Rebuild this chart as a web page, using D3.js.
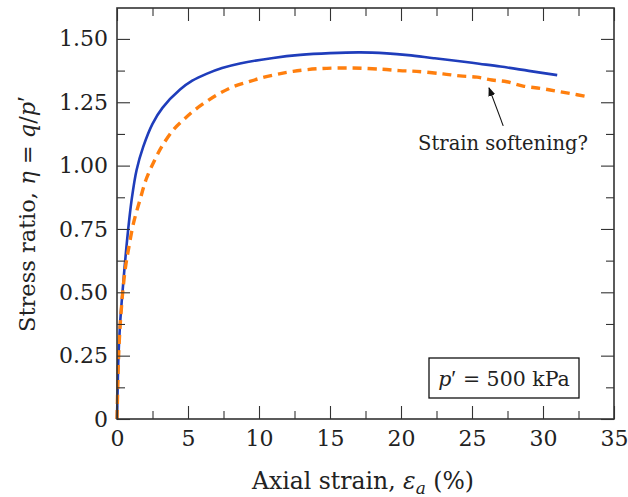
<!DOCTYPE html>
<html><head><meta charset="utf-8">
<script src="https://cdn.jsdelivr.net/npm/d3@7"></script>
<style>html,body{margin:0;padding:0;background:#fff;}svg{display:block;}</style>
</head><body>
<svg id="chart" width="628" height="497"></svg>
<script>
// ---- data ----
const blueStrain = [0,0.05,0.1,0.2,0.3,0.4,0.6,0.8,1.03,1.38,1.85,2.5,3.2,4.44,5.3,6.3,7.4,8.66,11,12.9,15,17.1,19,20.5,22.3,24,25.5,27,29,31];
const blueEta    = [0,0.13,0.24,0.36,0.44,0.51,0.64,0.755,0.865,0.983,1.075,1.165,1.228,1.30,1.335,1.362,1.385,1.403,1.425,1.437,1.444,1.447,1.443,1.436,1.424,1.413,1.402,1.391,1.374,1.357];
const orangeStrain = [0,0.05,0.1,0.2,0.3,0.4,0.6,0.8,1.15,1.62,2.08,2.68,3.15,3.97,4.67,5.37,6.3,7.25,8.2,9.15,10.1,11.25,12.4,14.3,16.6,18.7,19.9,21.1,22.96,24.15,25.35,26.4,27.45,28.6,29.8,30.85,31.9,33.1];
const orangeEta    = [0,0.12,0.23,0.35,0.43,0.5,0.6,0.667,0.77,0.865,0.95,1.025,1.075,1.141,1.18,1.215,1.253,1.286,1.312,1.329,1.345,1.36,1.372,1.383,1.385,1.380,1.375,1.372,1.362,1.354,1.349,1.338,1.331,1.314,1.305,1.295,1.285,1.272];
const xTicks = [0,5,10,15,20,25,30,35];
const yTicks = [0,0.25,0.5,0.75,1.0,1.25,1.5];
const yTickLabels = ["0","0.25","0.50","0.75","1.00","1.25","1.50"];
const xMinor = [2.5,7.5,12.5,17.5,22.5,27.5,32.5];
const yMinor = [0.125,0.375,0.625,0.875,1.125,1.375];
const annotation = {text:"Strain softening?", tipX:26.2, tipY:1.307, fromX:27.2, fromY:1.157};
const boxLabel = "500 kPa";

// ---- layout ----
const svg = d3.select("#chart");
const L=117, R=614, T=8, B=419;
const x = d3.scaleLinear().domain([0,35]).range([L,R]);
const y = d3.scaleLinear().domain([0,1.622]).range([B,T]);
const font = "'DejaVu Serif', serif";
const primeFont = "'Liberation Serif', serif";
const txtCol = "#222";

// curves
const line = d3.line().x(d=>x(d[0])).y(d=>y(d[1])).curve(d3.curveCatmullRom.alpha(0.5));
const blue = blueStrain.map((s,i)=>[s,blueEta[i]]);
const orange = orangeStrain.map((s,i)=>[s,orangeEta[i]]);
svg.append("path").attr("d",line(blue)).attr("fill","none").attr("stroke","#1f3dbb").attr("stroke-width",2.6);
svg.append("path").attr("d",line(orange)).attr("fill","none").attr("stroke","#ff7f0e").attr("stroke-width",3.4).attr("stroke-dasharray","9,6");

// axes (ticks inward, mirrored)
const axCol="#333";
function addAxis(axisGen, transform, vals, size, labels){
  const g = svg.append("g").attr("transform",transform).call(axisGen.tickValues(vals).tickSizeInner(size).tickSizeOuter(0).tickFormat(labels||""));
  g.select(".domain").remove();
  g.selectAll(".tick line").attr("stroke",axCol).attr("stroke-width",1.1);
  g.selectAll("text").attr("font-family",font).attr("font-size",22).attr("fill",txtCol);
  return g;
}
const gxb = addAxis(d3.axisBottom(x), `translate(0,${B})`, xTicks, -13, d=>d);
gxb.selectAll("text").attr("y",11).attr("dy","0.71em");
addAxis(d3.axisBottom(x), `translate(0,${B})`, xMinor, -8);
addAxis(d3.axisTop(x), `translate(0,${T})`, xTicks, -13);
addAxis(d3.axisTop(x), `translate(0,${T})`, xMinor, -8);
const gyl = addAxis(d3.axisLeft(y), `translate(${L},0)`, yTicks, -13, (d,i)=>yTickLabels[i]);
gyl.selectAll("text").attr("x",-9);
addAxis(d3.axisLeft(y), `translate(${L},0)`, yMinor, -8);
addAxis(d3.axisRight(y), `translate(${R},0)`, yTicks, -13);
addAxis(d3.axisRight(y), `translate(${R},0)`, yMinor, -8);

// frame
svg.append("rect").attr("x",L).attr("y",T).attr("width",R-L).attr("height",B-T).attr("fill","none").attr("stroke",axCol).attr("stroke-width",1.6);

// axis titles
const xt = svg.append("text").attr("x",363).attr("y",489).attr("text-anchor","middle").attr("font-family",font).attr("font-size",23.5).attr("fill",txtCol);
xt.append("tspan").text("Axial strain, ");
xt.append("tspan").attr("font-style","italic").text("ε");
xt.append("tspan").attr("font-style","italic").attr("font-size",17).attr("dy",5).text("a");
xt.append("tspan").attr("dy",-5).text(" (%)");

const yt = svg.append("text").attr("transform","translate(35,214) rotate(-90)").attr("text-anchor","middle").attr("font-family",font).attr("font-size",22.5).attr("fill",txtCol);
yt.append("tspan").text("Stress ratio, ");
yt.append("tspan").attr("font-style","italic").text("η");
yt.append("tspan").text(" = ");
yt.append("tspan").attr("font-style","italic").text("q");
yt.append("tspan").text("/");
yt.append("tspan").attr("font-style","italic").text("p");
yt.append("tspan").attr("font-family",primeFont).attr("font-size",26).text("′");

// annotation
svg.append("defs").append("marker").attr("id","ah").attr("viewBox","0 0 10 10").attr("refX",9).attr("refY",5)
  .attr("markerWidth",9).attr("markerHeight",9).attr("orient","auto").attr("markerUnits","userSpaceOnUse")
  .append("path").attr("d","M0,1 L10,5 L0,9 Z").attr("fill","#111");
svg.append("line").attr("x1",x(annotation.fromX)).attr("y1",y(annotation.fromY)).attr("x2",x(annotation.tipX)).attr("y2",y(annotation.tipY))
  .attr("stroke","#111").attr("stroke-width",1.1).attr("marker-end","url(#ah)");
svg.append("text").attr("x",503).attr("y",150).attr("text-anchor","middle").attr("font-family",font).attr("font-size",19.5).attr("fill",txtCol).text(annotation.text);

// box
svg.append("rect").attr("x",429).attr("y",358).attr("width",150).attr("height",40).attr("fill","#fff").attr("stroke","#111").attr("stroke-width",1.3);
const bt = svg.append("text").attr("x",504).attr("y",386).attr("text-anchor","middle").attr("font-family",font).attr("font-size",20.5).attr("fill",txtCol);
bt.append("tspan").attr("font-style","italic").text("p");
bt.append("tspan").attr("font-family",primeFont).attr("font-size",23).text("′");
bt.append("tspan").text(" = "+boxLabel);
</script>
</body></html>
